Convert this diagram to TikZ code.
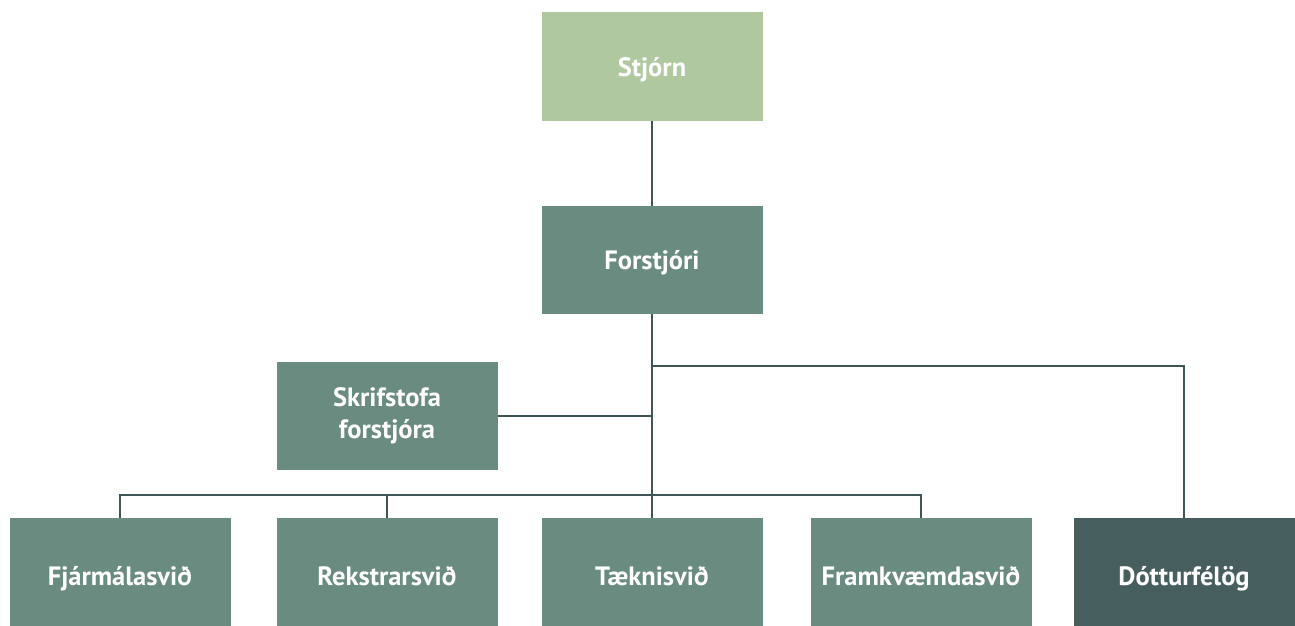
\documentclass[tikz,border=0pt]{standalone}
\usepackage{fontspec}
\setmainfont{PT Sans}
\definecolor{boardgreen}{HTML}{B0C8A0}
\definecolor{unitgreen}{HTML}{6A8B80}
\definecolor{subsgreen}{HTML}{475E5F}
\definecolor{linegray}{HTML}{3F5656}
\begin{document}
\begin{tikzpicture}[x=1pt, y=-1pt,
    unit/.style={rectangle, fill=unitgreen, text=white, font=\bfseries\fontsize{26.5}{32}\selectfont,
      minimum width=221pt, minimum height=108pt, inner sep=0pt, align=center},
    oneline/.style={text height=19pt, text depth=0pt},
    lowline/.style={text height=26pt, text depth=0pt},
    link/.style={draw=linegray, line width=2.6pt}]
      \useasboundingbox (0,0) rectangle (1295,626);
      \node (stj)[unit, oneline, fill=boardgreen] at (652, 66.5) {Stjórn};
      \node (for)[unit, oneline] at (652, 260) {Forstjóri};
      \node (skr)[unit] at (387, 416) {Skrifstofa\\forstjóra};
      \node (fja)[unit, lowline] at (120, 572) {Fjármálasvið};
      \node (rek)[unit, lowline] at (387, 572) {Rekstrarsvið};
      \node (tek)[unit, lowline] at (652, 572) {Tæknisvið};
      \node (fra)[unit, lowline] at (921, 572) {Framkvæmdasvið};
      \node (dot)[unit, lowline, fill=subsgreen] at (1184, 572) {Dótturfélög};
      \coordinate (sub) at (652, 366);
      \coordinate (bus) at (652, 495);
      \draw[link] (stj) -- (for) [] {};
      \draw[link] (for) -- (tek) [] {};
      \draw[link] (sub) -| (dot) [] {};
      \draw[link] (skr.east) -- (skr.east -| for) [] {};
      \draw[link] (fja) |- (bus) [] {};
      \draw[link] (rek) |- (bus) [] {};
      \draw[link] (fra) |- (bus) [] {};
\end{tikzpicture}
\end{document}
